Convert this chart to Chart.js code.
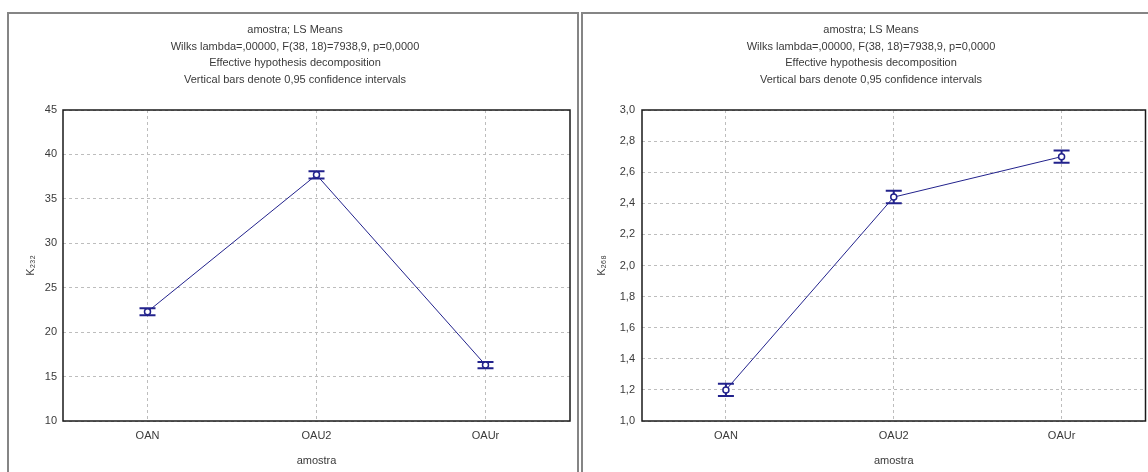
<!DOCTYPE html>
<html>
<head>
<meta charset="utf-8">
<script src="https://cdn.jsdelivr.net/npm/chart.js@4"></script>
<style>
  body { margin: 0; background: #fff; width: 1148px; height: 472px; overflow: hidden; position: relative; }
  .panel { position: absolute; top: 12px; height: 470px; border: 2px solid #858585; border-bottom: none; box-sizing: border-box; }
  canvas { position: absolute; top: 0; }
</style>
</head>
<body>
<div class="panel" style="left:7px; width:572px;"></div>
<div class="panel" style="left:581px; width:580px;"></div>
<canvas id="left" width="580" height="472" style="left:0px"></canvas>
<canvas id="right" width="571" height="472" style="left:580px"></canvas>
<script>
// data
const categories = ['OAN', 'OAU2', 'OAUr'];
const k232Means = [22.3, 37.7, 16.3];
const k232Lower = [21.9, 37.3, 15.95];
const k232Upper = [22.7, 38.1, 16.65];
const k268Means = [1.20, 2.44, 2.70];
const k268Lower = [1.16, 2.40, 2.66];
const k268Upper = [1.24, 2.48, 2.74];
const k232Ticks = [10, 15, 20, 25, 30, 35, 40, 45];
const k268Ticks = [1.0, 1.2, 1.4, 1.6, 1.8, 2.0, 2.2, 2.4, 2.6, 2.8, 3.0];
const titleLines = [
  'amostra; LS Means',
  'Wilks lambda=,00000, F(38, 18)=7938,9, p=0,0000',
  'Effective hypothesis decomposition',
  'Vertical bars denote 0,95 confidence intervals'
];

const blue = '#22228c';
const textCol = '#3a3a3a';
const font = { family: 'Liberation Sans, Arial, sans-serif', size: 11 };

// error bars drawn before the points so the white circles sit on top
const errorBars = {
  id: 'errorBars',
  beforeDatasetsDraw(chart, args, opts) {
    const c = chart.ctx;
    const x = chart.scales.x, y = chart.scales.y;
    c.save();
    c.strokeStyle = blue;
    c.lineWidth = 2;
    opts.lower.forEach((lo, i) => {
      const px = x.getPixelForValue(i);
      const y1 = y.getPixelForValue(lo);
      const y2 = y.getPixelForValue(opts.upper[i]);
      c.beginPath();
      c.moveTo(px, y1); c.lineTo(px, y2);
      c.moveTo(px - 8, y1); c.lineTo(px + 8, y1);
      c.moveTo(px - 8, y2); c.lineTo(px + 8, y2);
      c.stroke();
    });
    c.restore();
  }
};

// dark frame round the plot area
const frame = {
  id: 'frame',
  afterDraw(chart) {
    const a = chart.chartArea;
    const c = chart.ctx;
    c.save();
    c.strokeStyle = '#1a1a1a';
    c.lineWidth = 1.5;
    c.strokeRect(a.left, a.top, a.right - a.left, a.bottom - a.top);
    c.restore();
  }
};

function makeChart(id, means, lower, upper, ticks, yTitle, decimals, pad, yWidth, tickPad) {
  return new Chart(document.getElementById(id), {
    type: 'line',
    data: {
      labels: categories,
      datasets: [{
        data: means,
        borderColor: blue,
        borderWidth: 1,
        pointRadius: 3,
        pointBorderWidth: 1.5,
        pointBackgroundColor: '#fff',
        pointBorderColor: blue,
        tension: 0
      }]
    },
    options: {
      responsive: false,
      animation: false,
      layout: { padding: { left: pad.left, right: pad.right, top: 0, bottom: 0 } },
      plugins: {
        legend: { display: false },
        tooltip: { enabled: false },
        title: {
          display: true,
          text: titleLines,
          color: textCol,
          font: { family: font.family, size: 11, weight: 'normal', lineHeight: 1.5 },
          padding: { top: 22, bottom: 22 }
        },
        errorBars: { lower: lower, upper: upper }
      },
      scales: {
        x: {
          type: 'category',
          offset: true,
          grid: { offset: false, color: '#bdbdbd', drawTicks: false },
          border: { display: false, dash: [3, 3] },
          ticks: { color: textCol, font: font, padding: 8 },
          title: { display: true, text: 'amostra', color: textCol, font: font },
          afterFit(s) { s.height = 51; }
        },
        y: {
          min: ticks[0],
          max: ticks[ticks.length - 1],
          grid: { color: '#bdbdbd', drawTicks: false },
          border: { display: false, dash: [3, 3] },
          ticks: {
            color: textCol, font: font, padding: tickPad,
            callback: v => decimals ? v.toFixed(decimals).replace('.', ',') : String(v)
          },
          afterBuildTicks(s) { s.ticks = ticks.map(v => ({ value: v })); },
          title: { display: true, text: yTitle, color: textCol, font: font },
          afterFit(s) { s.width = yWidth; }
        }
      }
    },
    plugins: [errorBars, frame]
  });
}

makeChart('left', k232Means, k232Lower, k232Upper, k232Ticks, 'K₂₃₂', 0,
  { left: 20, right: 10 }, 43, 6);
makeChart('right', k268Means, k268Lower, k268Upper, k268Ticks, 'K₂₆₈', 1,
  { left: 11, right: 0 }, 51, 7);
</script>
</body>
</html>
